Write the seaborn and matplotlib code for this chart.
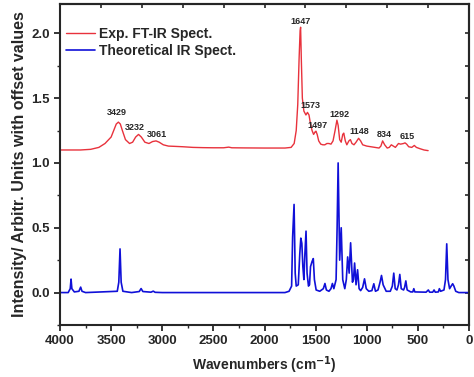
import numpy as np
import pandas as pd
import seaborn as sns
import matplotlib.pyplot as plt
from matplotlib.ticker import MultipleLocator

exp_wn = [4000, 3800, 3700, 3620, 3560, 3500, 3470, 3450, 3429, 3410, 3390, 3360, 3320,
          3290, 3260, 3232, 3205, 3170, 3130, 3095, 3061, 3030, 2990, 2940, 2880, 2800,
          2700, 2600, 2500, 2400, 2350, 2320, 2200, 2000, 1900, 1800, 1740, 1710, 1690,
          1675, 1662, 1652, 1647, 1640, 1630, 1615, 1595, 1580, 1565, 1550, 1535, 1520,
          1505, 1497, 1485, 1470, 1450, 1430, 1410, 1390, 1370, 1350, 1330, 1310, 1292,
          1280, 1265, 1250, 1235, 1225, 1210, 1195, 1175, 1160, 1145, 1125, 1105, 1080,
          1060, 1040, 1000, 960, 920, 880, 862, 845, 825, 800, 780, 760, 740, 720, 690,
          670, 640, 626, 610, 590, 560, 535, 515, 480, 440, 400]
exp_int = [1.10, 1.10, 1.105, 1.12, 1.15, 1.20, 1.26, 1.30, 1.315, 1.30, 1.25, 1.18, 1.15,
           1.16, 1.20, 1.22, 1.20, 1.16, 1.15, 1.165, 1.17, 1.16, 1.14, 1.13, 1.128, 1.125,
           1.12, 1.118, 1.117, 1.117, 1.122, 1.117, 1.116, 1.115, 1.115, 1.115, 1.12, 1.15, 1.25,
           1.45, 1.80, 2.02, 2.047, 1.80, 1.50, 1.40, 1.37, 1.39, 1.37, 1.30, 1.25, 1.22,
           1.24, 1.245, 1.22, 1.17, 1.145, 1.14, 1.14, 1.15, 1.15, 1.145, 1.17, 1.25, 1.33,
           1.29, 1.18, 1.16, 1.22, 1.23, 1.17, 1.14, 1.17, 1.18, 1.15, 1.14, 1.16, 1.19,
           1.17, 1.14, 1.13, 1.125, 1.12, 1.115, 1.13, 1.17, 1.14, 1.115, 1.12, 1.14, 1.13, 1.12, 1.15,
           1.145, 1.15, 1.155, 1.145, 1.125, 1.12, 1.135, 1.12, 1.11, 1.10, 1.095]

# theoretical (DFT) IR spectrum
theo_wn = [4000, 3920, 3900, 3892, 3884, 3860, 3815, 3798, 3785, 3750, 3440, 3425, 3413,
           3402, 3385, 3300, 3225, 3207, 3190, 3110, 3088, 3070, 3000, 1800, 1760, 1735,
           1725, 1711, 1700, 1690, 1670, 1655, 1645, 1635, 1625, 1615, 1605, 1594, 1584,
           1570, 1560, 1550, 1535, 1523, 1512, 1495, 1460, 1425, 1409, 1395, 1370, 1350,
           1336, 1322, 1300, 1290, 1280, 1265, 1250, 1235, 1215, 1200, 1187, 1172, 1158,
           1140, 1130, 1119, 1105, 1090, 1075, 1060, 1040, 1022, 1005, 980, 950, 931, 915,
           890, 870, 856, 840, 810, 770, 750, 736, 722, 705, 690, 677, 663, 640, 630, 618,
           605, 570, 550, 540, 530, 420, 398, 385, 355, 342, 330, 300, 290, 278, 245, 230,
           218, 206, 190, 175, 160, 148, 130, 100, 0]
theo_int = [0, 0, 0.03, 0.104, 0.03, 0.005, 0.01, 0.042, 0.01, 0, 0.01, 0.08, 0.337,
            0.08, 0.01, 0, 0.008, 0.031, 0.008, 0.003, 0.011, 0.002, 0, 0, 0.01, 0.05,
            0.43, 0.68, 0.15, 0.05, 0.06, 0.30, 0.42, 0.38, 0.20, 0.10, 0.30, 0.474, 0.15,
            0.05, 0.06, 0.20, 0.24, 0.262, 0.10, 0.02, 0.01, 0.03, 0.07, 0.02, 0.01, 0.03,
            0.07, 0.03, 0.10, 0.50, 1.0, 0.25, 0.50, 0.10, 0.03, 0.10, 0.275, 0.15, 0.384,
            0.08, 0.10, 0.228, 0.06, 0.176, 0.03, 0.015, 0.04, 0.106, 0.03, 0.01, 0.015, 0.068, 0.01,
            0.02, 0.08, 0.132, 0.06, 0.01, 0.01, 0.05, 0.15, 0.03, 0.02, 0.06, 0.14, 0.03, 0.02, 0.04, 0.09,
            0.02, 0.005, 0.005, 0.03, 0.005, 0.003, 0.02, 0.003, 0.003, 0.02, 0.003, 0.005, 0.03, 0.01, 0.02, 0.10,
            0.376, 0.10, 0.03, 0.05, 0.068, 0.05, 0.01, 0, 0]

# peak labels on the experimental curve
peak_labels = ["3429", "3232", "3061", "1647", "1573", "1497", "1292", "1148", "834", "615"]
label_x = [3443, 3267, 3054, 1646, 1555, 1484, 1269, 1076, 831, 604]
label_y = [1.39, 1.27, 1.22, 2.09, 1.44, 1.29, 1.375, 1.243, 1.22, 1.205]

sns.set_style("ticks")
plt.rcParams['font.family'] = ['Liberation Sans', 'DejaVu Sans']
plt.rcParams['font.weight'] = 'bold'

df_exp = pd.DataFrame({"wn": exp_wn, "val": exp_int})
df_theo = pd.DataFrame({"wn": theo_wn, "val": theo_int})

fig = plt.figure(figsize=(4.74, 3.77), dpi=100)
ax = fig.add_axes([0.1266, 0.138, 0.8629, 0.8527])

sns.lineplot(data=df_exp, x="wn", y="val", sort=False, estimator=None, color="#e8323c",
             linewidth=1.0, label="Exp. FT-IR Spect.", ax=ax)
sns.lineplot(data=df_theo, x="wn", y="val", sort=False, estimator=None, color="#1010d8",
             linewidth=1.2, label="Theoretical IR Spect.", ax=ax)

for t, x, y in zip(peak_labels, label_x, label_y):
    ax.text(x, y, t, ha="center", va="center", fontsize=6.5, fontweight="bold")

ax.set_xlim(4000, 0)
ax.set_ylim(-0.25, 2.23)
ax.xaxis.set_major_locator(MultipleLocator(500))
ax.xaxis.set_minor_locator(MultipleLocator(250))
ax.yaxis.set_major_locator(MultipleLocator(0.5))
ax.yaxis.set_minor_locator(MultipleLocator(0.25))
ax.tick_params(which="major", direction="out", length=4, width=1.3, labelsize=9.5)
ax.tick_params(which="minor", direction="out", length=2.5, width=1.0)
for lab in ax.get_xticklabels() + ax.get_yticklabels():
    lab.set_fontweight("bold")

# mirrored ticks on top and right, pointing inwards
top = ax.secondary_xaxis("top")
top.set_xticks(np.arange(0, 4001, 400))
top.tick_params(direction="in", length=3, width=1.2, labeltop=False)
right = ax.secondary_yaxis("right")
right.set_yticks(np.arange(-0.25, 2.3, 0.25))
right.tick_params(direction="in", length=3, width=1.2, labelright=False)

for s in ax.spines.values():
    s.set_visible(True)
    s.set_linewidth(1.5)
top.spines["top"].set_linewidth(1.5)
right.spines["right"].set_linewidth(1.5)

ax.set_xlabel("Wavenumbers (cm$^{\\mathbf{-1}}$)", fontsize=10, fontweight="bold", labelpad=5)
ax.set_ylabel("Intensity/ Arbitr. Units with offset values", fontsize=11.5, fontweight="bold", labelpad=3)

leg = ax.legend(loc="upper left", frameon=False, fontsize=10, handlelength=2.1,
                handletextpad=0.3, borderaxespad=0.0, labelspacing=0.25,
                bbox_to_anchor=(0.0, 0.945))
for t in leg.get_texts():
    t.set_fontweight("bold")

fig.savefig("out.png", dpi=100)
